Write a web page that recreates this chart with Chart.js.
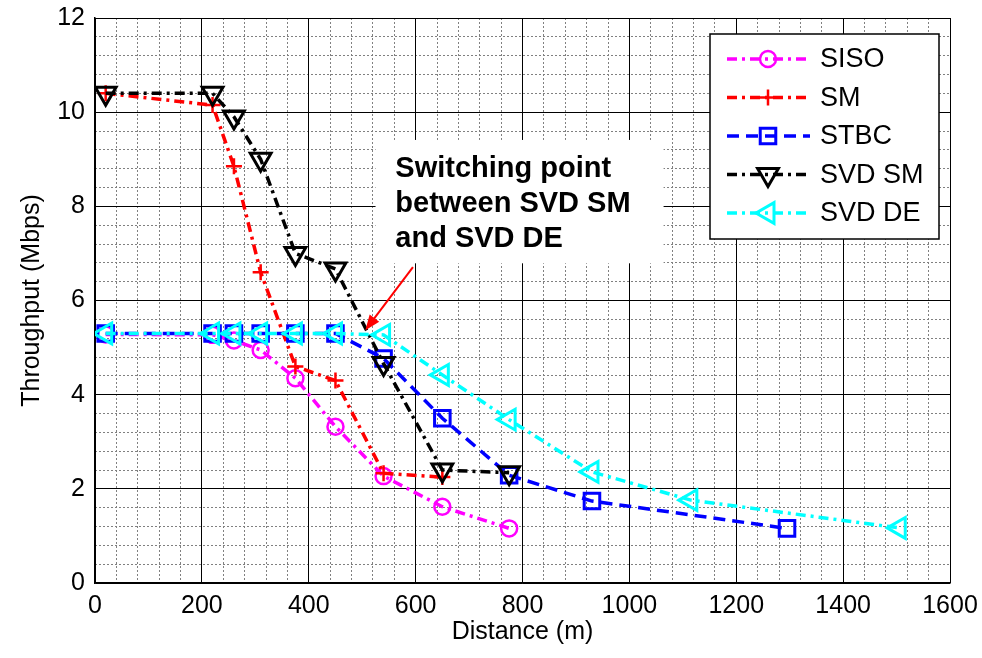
<!DOCTYPE html>
<html>
<head>
<meta charset="utf-8">
<script src="https://cdn.jsdelivr.net/npm/chart.js@4.4.1/dist/chart.umd.min.js"></script>
<style>
  html, body { margin: 0; padding: 0; background: #fff; }
</style>
</head>
<body>
<canvas id="chart" width="982" height="658"></canvas>
<script>
// values
const sisoX = [20, 220, 260, 310, 375, 450, 540, 650, 775];
const sisoY = [5.28, 5.27, 5.15, 4.95, 4.35, 3.32, 2.27, 1.62, 1.16];
const smX = [20, 220, 260, 310, 375, 450, 540, 650];
const smY = [10.4, 10.15, 8.85, 6.6, 4.6, 4.3, 2.33, 2.25];
const stbcX = [20, 220, 260, 310, 375, 450, 540, 650, 775, 930, 1295];
const stbcY = [5.3, 5.3, 5.3, 5.3, 5.3, 5.3, 4.77, 3.5, 2.29, 1.74, 1.16];
const svdSmX = [20, 220, 260, 310, 375, 450, 540, 650, 775];
const svdSmY = [10.4, 10.4, 9.9, 9.0, 7.0, 6.67, 4.66, 2.4, 2.34];
const svdDeX = [20, 220, 260, 310, 375, 450, 540, 650, 775, 930, 1115, 1505];
const svdDeY = [5.3, 5.3, 5.3, 5.3, 5.3, 5.3, 5.27, 4.42, 3.47, 2.36, 1.76, 1.17];

const seriesNames = ["SISO", "SM", "STBC", "SVD SM", "SVD DE"];
const xTitle = "Distance (m)";
const yTitle = "Throughput (Mbps)";

// annotation (data coordinates)
const noteLines = ["Switching point", "between SVD SM", "and SVD DE"];
const noteX = 562, noteY = 8.79;
const noteBox = [525, 1064, 9.41, 6.79];
const arrowFrom = [595, 6.71];
const arrowTo = [506, 5.37];

const FONT = '"Liberation Sans", Arial, sans-serif';
const dashDot = [10, 5, 3, 5];

function pts(xs, ys) {
  return xs.map((x, i) => ({ x: x, y: ys[i] }));
}

const datasets = [
  { label: seriesNames[0], data: pts(sisoX, sisoY), borderColor: "#ff00ff", borderDash: dashDot,
    pointStyle: "circle", pointRadius: 8, pointBorderWidth: 2.5, order: 5 },
  { label: seriesNames[1], data: pts(smX, smY), borderColor: "#ff0000", borderDash: dashDot,
    pointStyle: "cross", pointRadius: 8, pointBorderWidth: 2.5, order: 4 },
  { label: seriesNames[2], data: pts(stbcX, stbcY), borderColor: "#0000ff", borderDash: [12, 7],
    pointStyle: "rect", pointRadius: 11, pointBorderWidth: 3, order: 3 },
  { label: seriesNames[3], data: pts(svdSmX, svdSmY), borderColor: "#000000", borderDash: dashDot,
    pointStyle: "triangle", pointRotation: 180, pointRadius: 12, pointBorderWidth: 3, order: 2 },
  { label: seriesNames[4], data: pts(svdDeX, svdDeY), borderColor: "#00ffff", borderDash: dashDot,
    pointStyle: "triangle", pointRotation: 270, pointRadius: 12, pointBorderWidth: 3, order: 1 }
];
datasets.forEach(d => {
  d.borderWidth = 3.5;
  d.pointBorderColor = d.borderColor;
  d.pointBackgroundColor = "rgba(0,0,0,0)";
  d.backgroundColor = "rgba(0,0,0,0)";
  d.fill = false;
  d.tension = 0;
});

const notePlugin = {
  id: "note",
  beforeDatasetsDraw(chart) {
    const { ctx, scales: { x, y } } = chart;
    const l = x.getPixelForValue(noteBox[0]), r = x.getPixelForValue(noteBox[1]);
    const t = y.getPixelForValue(noteBox[2]), b = y.getPixelForValue(noteBox[3]);
    ctx.save();
    ctx.fillStyle = "#fff";
    ctx.fillRect(l, t, r - l, b - t);
    ctx.fillStyle = "#000";
    ctx.font = "bold 29px " + FONT;
    ctx.textBaseline = "middle";
    const tx = x.getPixelForValue(noteX), ty = y.getPixelForValue(noteY);
    noteLines.forEach((s, i) => ctx.fillText(s, tx, ty + i * 35));
    ctx.restore();
  },
  afterDatasetsDraw(chart) {
    const { ctx, chartArea, scales: { x, y } } = chart;
    ctx.save();
    // arrow
    const x1 = x.getPixelForValue(arrowFrom[0]), y1 = y.getPixelForValue(arrowFrom[1]);
    const x2 = x.getPixelForValue(arrowTo[0]), y2 = y.getPixelForValue(arrowTo[1]);
    const ang = Math.atan2(y2 - y1, x2 - x1);
    ctx.strokeStyle = "#ff0000";
    ctx.fillStyle = "#ff0000";
    ctx.lineWidth = 2;
    ctx.beginPath();
    ctx.moveTo(x1, y1);
    ctx.lineTo(x2 - 10 * Math.cos(ang), y2 - 10 * Math.sin(ang));
    ctx.stroke();
    ctx.beginPath();
    ctx.moveTo(x2, y2);
    ctx.lineTo(x2 - 15 * Math.cos(ang) + 6 * Math.sin(ang), y2 - 15 * Math.sin(ang) - 6 * Math.cos(ang));
    ctx.lineTo(x2 - 15 * Math.cos(ang) - 6 * Math.sin(ang), y2 - 15 * Math.sin(ang) + 6 * Math.cos(ang));
    ctx.closePath();
    ctx.fill();

    // legend box, top right inside the plot
    const lw = 229, lh = 205;
    const lx = chartArea.right - 11 - lw, ly = chartArea.top + 16;
    ctx.fillStyle = "#fff";
    ctx.fillRect(lx, ly, lw, lh);
    ctx.strokeStyle = "#000";
    ctx.lineWidth = 1.5;
    ctx.strokeRect(lx, ly, lw, lh);
    ctx.font = "27px " + FONT;
    ctx.textBaseline = "middle";
    chart.data.datasets.forEach((d, i) => {
      const ry = ly + 25 + i * 38.5;
      ctx.strokeStyle = d.borderColor;
      ctx.lineWidth = d.borderWidth;
      ctx.setLineDash(d.borderDash);
      ctx.beginPath();
      ctx.moveTo(lx + 17, ry);
      ctx.lineTo(lx + 100, ry);
      ctx.stroke();
      ctx.setLineDash([]);
      ctx.fillStyle = "rgba(0,0,0,0)";
      ctx.lineWidth = d.pointBorderWidth;
      Chart.helpers.drawPoint(ctx, {
        pointStyle: d.pointStyle, rotation: d.pointRotation || 0,
        radius: d.pointRadius, borderWidth: d.pointBorderWidth
      }, lx + 58, ry);
      ctx.fillStyle = "#000";
      ctx.fillText(d.label, lx + 110, ry + 1);
    });
    ctx.restore();
  }
};

new Chart(document.getElementById("chart"), {
  type: "line",
  data: { datasets: datasets },
  plugins: [notePlugin],
  options: {
    responsive: false,
    animation: false,
    layout: { padding: { top: 18, right: 32, left: 0, bottom: 0 } },
    plugins: { legend: { display: false }, tooltip: { enabled: false } },
    scales: {
      xMinor: {
        type: "linear", position: "bottom", min: 0, max: 1600,
        ticks: { display: false, stepSize: 40, maxTicksLimit: 100 },
        grid: { color: "#808080", lineWidth: 1, drawTicks: false },
        border: { display: false, dash: [2, 2] },
        afterFit: s => { s.height = 0; }
      },
      yMinor: {
        type: "linear", position: "left", min: 0, max: 12,
        ticks: { display: false, stepSize: 0.4, maxTicksLimit: 100 },
        grid: { color: "#808080", lineWidth: 1, drawTicks: false },
        border: { display: false, dash: [2, 2] },
        afterFit: s => { s.width = 0; }
      },
      x: {
        type: "linear", position: "bottom", min: 0, max: 1600,
        ticks: { stepSize: 200, color: "#000", padding: 4, maxRotation: 0,
          font: { family: FONT, size: 25, lineHeight: 1.55 }, callback: v => String(v) },
        grid: { color: "#000", lineWidth: 1, drawTicks: false },
        border: { color: "#000", width: 1.5 },
        title: { display: true, text: xTitle, color: "#000",
          font: { family: FONT, size: 25 }, padding: { top: 0, bottom: 11 } },
        afterFit: s => { s.height = 75; }
      },
      y: {
        type: "linear", position: "left", min: 0, max: 12,
        ticks: { stepSize: 2, color: "#000", padding: 10,
          font: { family: FONT, size: 25, lineHeight: 0.5 }, callback: v => String(v) },
        grid: { color: "#000", lineWidth: 1, drawTicks: false },
        border: { color: "#000", width: 1.5 },
        title: { display: true, text: yTitle, color: "#000",
          font: { family: FONT, size: 25 }, padding: { top: 17, bottom: 0 } },
        afterFit: s => { s.width = 95; }
      }
    }
  }
});
</script>
</body>
</html>
